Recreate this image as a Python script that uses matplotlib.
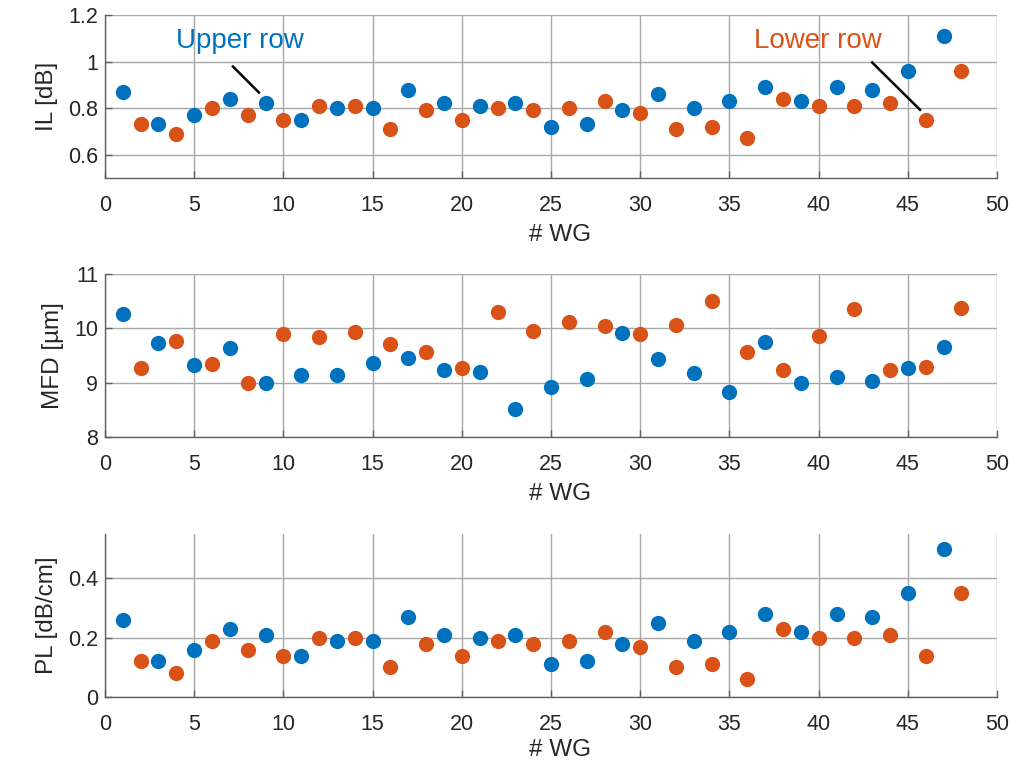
import numpy as np
import matplotlib.pyplot as plt
from matplotlib.ticker import FuncFormatter

plt.rcParams['font.family'] = ['Liberation Sans', 'DejaVu Sans']

# waveguide numbers: upper row odd, lower row even
wg_upper = np.arange(1, 48, 2)
wg_lower = np.arange(2, 49, 2)

il_upper = [0.87, 0.73, 0.77, 0.84, 0.82, 0.75, 0.80, 0.80, 0.88, 0.82, 0.81, 0.82,
            0.72, 0.73, 0.79, 0.86, 0.80, 0.83, 0.89, 0.83, 0.89, 0.88, 0.96, 1.11]
il_lower = [0.73, 0.69, 0.80, 0.77, 0.75, 0.81, 0.81, 0.71, 0.79, 0.75, 0.80, 0.79,
            0.80, 0.83, 0.78, 0.71, 0.72, 0.67, 0.84, 0.81, 0.81, 0.82, 0.75, 0.96]

mfd_upper = [10.26, 9.73, 9.33, 9.63, 9.00, 9.14, 9.14, 9.37, 9.46, 9.24, 9.20, 8.52,
             8.92, 9.06, 9.91, 9.43, 9.17, 8.82, 9.74, 9.00, 9.11, 9.03, 9.27, 9.66]
mfd_lower = [9.27, 9.77, 9.35, 9.00, 9.90, 9.84, 9.93, 9.71, 9.57, 9.27, 10.31, 9.96,
             10.12, 10.04, 9.90, 10.06, 10.50, 9.56, 9.24, 9.86, 10.35, 9.24, 9.28, 10.37]

pl_upper = [0.26, 0.12, 0.16, 0.23, 0.21, 0.14, 0.19, 0.19, 0.27, 0.21, 0.20, 0.21,
            0.11, 0.12, 0.18, 0.25, 0.19, 0.22, 0.28, 0.22, 0.28, 0.27, 0.35, 0.50]
pl_lower = [0.12, 0.08, 0.19, 0.16, 0.14, 0.20, 0.20, 0.10, 0.18, 0.14, 0.19, 0.18,
            0.19, 0.22, 0.17, 0.10, 0.11, 0.06, 0.23, 0.20, 0.20, 0.21, 0.14, 0.35]

blue = '#0072BD'
orange = '#D95319'
txt = '#262626'

fig = plt.figure(figsize=(10.29, 7.62), dpi=100, facecolor='w')

panels = [
    (0.7664, il_upper, il_lower, 'IL [dB]', (0.5, 1.2), [0.6, 0.8, 1, 1.2], -0.28),
    (0.4265, mfd_upper, mfd_lower, 'MFD [µm]', (8, 11), [8, 9, 10, 11], -0.28),
    (0.0853, pl_upper, pl_lower, 'PL [dB/cm]', (0, 0.55), [0, 0.2, 0.4], -0.255),
]

axes = []
for bottom, up, low, ylab, ylim, yt, xlab_y in panels:
    ax = fig.add_axes([0.102, bottom, 0.867, 0.2139])
    ax.plot(wg_upper, up, 'o', color=blue, ms=11, mec='none', zorder=3, clip_on=False)
    ax.plot(wg_lower, low, 'o', color=orange, ms=11, mec='none', zorder=3, clip_on=False)
    ax.set_xlim(0, 50)
    ax.set_ylim(*ylim)
    ax.set_xticks(np.arange(0, 51, 5))
    ax.set_yticks(yt)
    ax.yaxis.set_major_formatter(FuncFormatter(lambda v, p: f'{v:g}'))
    ax.grid(True, color='#a8a8a8', linewidth=1.0)
    ax.set_axisbelow(True)
    for s in ['top', 'right']:
        ax.spines[s].set_visible(False)
    for s in ['left', 'bottom']:
        ax.spines[s].set_color('#606060')
        ax.spines[s].set_linewidth(1.0)
    ax.tick_params(direction='in', length=5, width=1, color='#606060',
                   labelsize=15.5, labelcolor=txt)
    ax.tick_params(axis='x', pad=12)
    ax.tick_params(axis='y', pad=5)
    ax.set_xlabel('# WG', fontsize=17.5, color=txt, labelpad=3)
    ax.xaxis.set_label_coords(0.51, xlab_y)
    ax.set_ylabel(ylab, fontsize=17.5, color=txt, labelpad=7)
    axes.append(ax)

ax = axes[0]
ax.text(7.54, 1.06, 'Upper row', color=blue, fontsize=20, ha='center', va='baseline')
ax.plot([7.17, 8.63], [0.979, 0.867], color='k', lw=1.8)
ax.text(39.94, 1.06, 'Lower row', color=orange, fontsize=20, ha='center', va='baseline')
ax.plot([43.0, 45.68], [0.996, 0.793], color='k', lw=1.8)

fig.savefig('out.png', dpi=100)
